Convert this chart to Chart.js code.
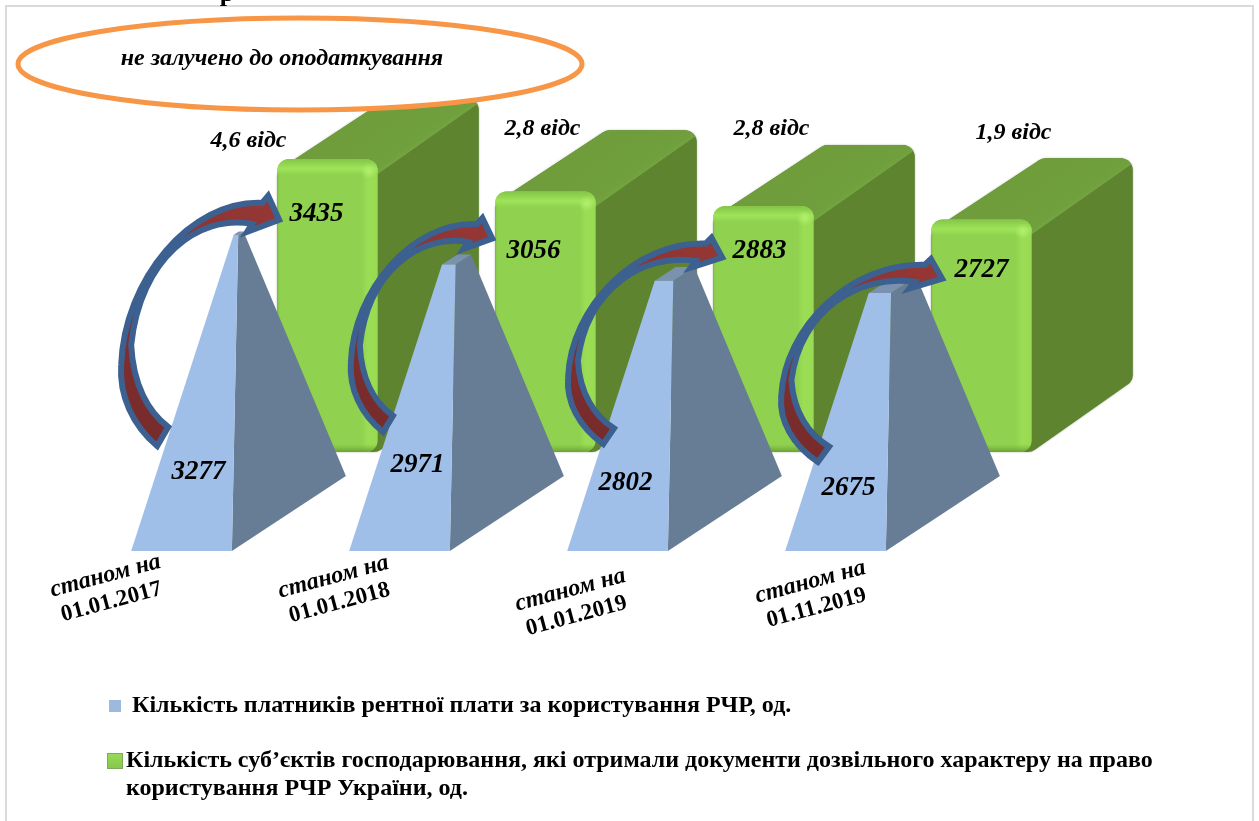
<!DOCTYPE html>
<html lang="uk">
<head>
<meta charset="utf-8">
<title>Chart</title>
<script src="https://cdn.jsdelivr.net/npm/chart.js@4"></script>
<style>
html,body{margin:0;padding:0;background:#fff;}
canvas{display:block;}
</style>
</head>
<body>
<canvas id="c" width="1259" height="821"></canvas>
<script>
const categories = [["станом на","01.01.2017"],["станом на","01.01.2018"],["станом на","01.01.2019"],["станом на","01.11.2019"]];
const payers = [3277, 2971, 2802, 2675];
const permitHolders = [3435, 3056, 2883, 2727];
const growthLabels = ["4,6 відс", "2,8 відс", "2,8 відс", "1,9 відс"];
const payersName = "\u00A0Кількість платників рентної плати за користування РЧР, од.";
const permitName = ["Кількість суб’єктів господарювання, які отримали документи дозвільного характеру на право", "користування РЧР України, од."];
const calloutText = "не залучено до оподаткування";

// Styling and small per-label nudges (relative to the library's own element positions)
const SERIF = '"Liberation Serif", "Times New Roman", serif';
const tickNudge = [[-146, 38],[-136, 39],[-117, 52],[-95, 44]];
const permitLabelNudge = [[-11, 55],[-12, 60],[-4, 45],[0, 51]];
const payerLabelNudge = [[17, -79],[18, -86],[8, -68],[13, -63]];
const growthNudge = [[-79, -18],[-3, -62],[8, -77],[32, -87]];
const arrowBox = [[-13, 3, 36, -105],[-1, -2, 26, -119],[-2, 10, 31, -107],[-7, 12, 39, -89]];

function marker(kind){
  const m = document.createElement('canvas'); m.width = 30; m.height = 20;
  const g = m.getContext('2d');
  if(kind === 0){ g.fillStyle = '#9DB9DE'; g.fillRect(14, 4, 12, 12); }
  else {
    const lg = g.createLinearGradient(0, 2, 0, 18);
    lg.addColorStop(0, '#9ADB58'); lg.addColorStop(1, '#86C64A');
    g.fillStyle = lg; g.fillRect(12, 2, 16, 16);
    g.strokeStyle = '#7FA85A'; g.lineWidth = 1; g.strokeRect(12.5, 2.5, 15, 15);
  }
  return m;
}
const markers = [marker(0), marker(1)];

function roundedPoly(ctx, pts, r){
  const n = pts.length;
  const a = pts[n-1], b = pts[0];
  ctx.beginPath();
  ctx.moveTo((a[0]+b[0])/2, (a[1]+b[1])/2);
  for(let i = 0; i < n; i++){
    const p = pts[i], q = pts[(i+1)%n];
    ctx.arcTo(p[0], p[1], q[0], q[1], r);
  }
  ctx.closePath();
}
function poly(ctx, pts){
  ctx.beginPath();
  pts.forEach((p,i)=> i ? ctx.lineTo(p[0],p[1]) : ctx.moveTo(p[0],p[1]));
  ctx.closePath();
}
function lerp(a, b, t){ return [a[0]+(b[0]-a[0])*t, a[1]+(b[1]-a[1])*t]; }

function drawBox(ctx, el){
  const L = el.x - el.width/2, R = el.x + el.width/2, T = el.y, B = el.base, r = 12;
  const backTop = T - 61, dxBack = 101;
  const sil = [[L,T+12],[L+111,backTop],[R+dxBack,backTop],[R+dxBack,B-71],[R,B],[L,B]];
  ctx.save();
  roundedPoly(ctx, sil, r);
  ctx.fillStyle = '#5E8430';
  ctx.shadowColor = 'rgba(60,90,30,.45)'; ctx.shadowBlur = 2;
  ctx.fill();
  ctx.shadowBlur = 0;
  ctx.clip();
  // top face
  const tg = ctx.createLinearGradient(R+30, T-50, R+62, T-4);
  tg.addColorStop(0, '#6F9D3C'); tg.addColorStop(.55, '#709F3D');
  tg.addColorStop(.8, '#79AF45'); tg.addColorStop(1, '#76AA42');
  poly(ctx, [[L,T+12],[L+111,backTop],[R+dxBack,backTop],[R+dxBack,T-56],[R,T+15]]);
  ctx.fillStyle = tg; ctx.fill();
  ctx.restore();
  // front face
  ctx.save();
  ctx.beginPath(); ctx.roundRect(L, T, el.width, B-T, r); ctx.clip();
  const fg = ctx.createLinearGradient(L, 0, R, 0);
  fg.addColorStop(0, '#86C448'); fg.addColorStop(.03, '#90D24F');
  fg.addColorStop(.84, '#90D24F'); fg.addColorStop(.9, '#9BDD55'); fg.addColorStop(1, '#98DB53');
  ctx.fillStyle = fg; ctx.fillRect(L, T, el.width, B-T);
  const vg = ctx.createLinearGradient(0, T, 0, T+16);
  vg.addColorStop(0, 'rgba(132,196,72,1)'); vg.addColorStop(.6, 'rgba(158,228,88,1)');
  vg.addColorStop(1, 'rgba(158,228,88,0)');
  ctx.fillStyle = vg; ctx.fillRect(L, T, el.width, 16);
  const sp = ctx.createRadialGradient(R-9, T+12, 0, R-9, T+12, 8);
  sp.addColorStop(0, 'rgba(178,240,110,1)'); sp.addColorStop(1, 'rgba(178,240,110,0)');
  ctx.fillStyle = sp; ctx.fillRect(R-18, T+3, 18, 18);
  const bg = ctx.createLinearGradient(0, B-8, 0, B);
  bg.addColorStop(0, 'rgba(120,180,60,0)'); bg.addColorStop(1, 'rgba(108,160,55,1)');
  ctx.fillStyle = bg; ctx.fillRect(L, B-8, el.width, 8);
  ctx.restore();
}

function drawPyramid(ctx, el, vmax, yScale){
  const dx = 114, dy = 75;
  const L = [el.x - el.width/2, el.base], R = [el.x + el.width/2, el.base];
  const Bk = [R[0]+dx, el.base-dy], BL = [L[0]+dx, el.base-dy];
  const A = [(L[0]+Bk[0])/2, yScale.getPixelForValue(vmax)];
  const t = (el.base - el.y) / (el.base - A[1]);
  const L2 = lerp(L,A,t), R2 = lerp(R,A,t), Bk2 = lerp(Bk,A,t), BL2 = lerp(BL,A,t);
  poly(ctx, [R,Bk,Bk2,R2]); ctx.fillStyle = '#677D95'; ctx.fill();
  poly(ctx, [L2,R2,Bk2,BL2]); ctx.fillStyle = '#7A92B0'; ctx.fill();
  poly(ctx, [L,R,R2,L2]); ctx.fillStyle = '#A0BFE8'; ctx.fill();
}

// Curved block arrow outline, in a template box that is then fitted to each arrow's anchors
const TPL = {x0:118, x1:280, y0:195, y1:446};
function drawArrow(ctx, x0, x1, y0, y1){
  const X = v => x0 + (v-TPL.x0)/(TPL.x1-TPL.x0)*(x1-x0);
  const Y = v => y0 + (v-TPL.y0)/(TPL.y1-TPL.y0)*(y1-y0);
  ctx.beginPath();
  ctx.moveTo(X(157),Y(446));
  ctx.bezierCurveTo(X(132),Y(425),X(119),Y(395),X(121),Y(365));
  ctx.bezierCurveTo(X(124),Y(280),X(190),Y(200),X(262),Y(203));
  ctx.lineTo(X(268),Y(196));
  ctx.lineTo(X(279),Y(220));
  ctx.lineTo(X(247),Y(232));
  ctx.lineTo(X(252),Y(224));
  ctx.bezierCurveTo(X(198),Y(214),X(140),Y(258),X(131),Y(345));
  ctx.bezierCurveTo(X(133),Y(385),X(148),Y(412),X(168),Y(427));
  ctx.closePath();
  const g = ctx.createLinearGradient(X(150),Y(440),X(270),Y(205));
  g.addColorStop(0,'#772B2B'); g.addColorStop(1,'#953735');
  ctx.fillStyle = g;
  ctx.fill();
  ctx.strokeStyle = '#3C6090'; ctx.lineWidth = 6; ctx.lineJoin = 'miter'; ctx.miterLimit = 6;
  ctx.stroke();
}

function text(ctx, s, x, y, font, rot){
  ctx.save();
  ctx.translate(x, y);
  if(rot) ctx.rotate(rot);
  ctx.font = font; ctx.fillStyle = '#000'; ctx.textAlign = 'center'; ctx.textBaseline = 'middle';
  ctx.fillText(s, 0, 0);
  ctx.restore();
}

const scene = {
  id: 'scene',
  afterLayout(chart){
    // the legend clips to its own box; leave room for its wrapped second line
    chart.legend.bottom = chart.height;
  },
  beforeDraw(chart){
    const ctx = chart.ctx;
    ctx.save();
    ctx.fillStyle = '#fff'; ctx.fillRect(0,0,chart.width,chart.height);
    ctx.strokeStyle = '#DADADA'; ctx.lineWidth = 2;
    ctx.beginPath();
    ctx.moveTo(6, chart.height); ctx.lineTo(6, 6); ctx.lineTo(1253, 6); ctx.lineTo(1253, chart.height);
    ctx.stroke();
    // clipped fragment of the heading above the frame
    ctx.font = 'bold 26px ' + SERIF; ctx.fillStyle = '#000'; ctx.textAlign = 'center'; ctx.textBaseline = 'alphabetic';
    ctx.fillText('р', 227, 1);
    ctx.restore();
  },
  afterDatasetsDraw(chart){
    const ctx = chart.ctx;
    const pyr = chart.getDatasetMeta(0).data, box = chart.getDatasetMeta(1).data;
    const vmax = Math.max(...payers, ...permitHolders);
    ctx.save();
    box.forEach(el => drawBox(ctx, el));
    pyr.forEach(el => drawPyramid(ctx, el, vmax, chart.scales.y));
    box.forEach((el,i) => {
      const p = pyr[i], b = arrowBox[i];
      drawArrow(ctx, p.x - p.width/2 + b[0], el.x - el.width/2 + b[1], el.y + b[2], p.base + b[3]);
    });
    // callout ellipse
    ctx.beginPath(); ctx.ellipse(300, 64, 282, 46, 0, 0, Math.PI*2);
    ctx.fillStyle = '#fff'; ctx.fill();
    ctx.strokeStyle = '#F79646'; ctx.lineWidth = 5; ctx.stroke();
    text(ctx, calloutText, 282, 59, 'italic bold 24px ' + SERIF);
    // value labels
    const numFont = 'italic bold 27px ' + SERIF;
    box.forEach((el,i) => text(ctx, String(permitHolders[i]), el.x + permitLabelNudge[i][0], el.y + permitLabelNudge[i][1], numFont));
    pyr.forEach((el,i) => text(ctx, String(payers[i]), el.x + payerLabelNudge[i][0], el.base + payerLabelNudge[i][1], numFont));
    box.forEach((el,i) => text(ctx, growthLabels[i], el.x + growthNudge[i][0], el.y + growthNudge[i][1], 'italic bold 24px ' + SERIF));
    // category labels, rotated
    const xs = chart.scales.x, rot = -15 * Math.PI / 180;
    xs.getLabels().forEach((lab,i) => {
      const cx = xs.getPixelForValue(i) + tickNudge[i][0], cy = xs.top + tickNudge[i][1];
      text(ctx, lab[0], cx - 3, cy - 13, 'italic bold 24px ' + SERIF, rot);
      text(ctx, lab[1], cx + 3, cy + 13, 'bold 23px ' + SERIF, rot);
    });
    ctx.restore();
  }
};

const hiddenAxis = {
  display: true,
  grid: {display:false, drawTicks:false},
  border: {display:false},
  ticks: {display:false}
};

new Chart(document.getElementById('c'), {
  type: 'bar',
  data: {
    labels: categories,
    datasets: [
      {label: payersName, data: payers, yAxisID: 'y', backgroundColor: 'rgba(0,0,0,0)', categoryPercentage: 1.339, barPercentage: .69},
      {label: permitName.join(' '), data: permitHolders, yAxisID: 'y2', backgroundColor: 'rgba(0,0,0,0)', categoryPercentage: 1.339, barPercentage: .69}
    ]
  },
  plugins: [scene],
  options: {
    responsive: false,
    animation: false,
    layout: {autoPadding: false, padding: {top: 100, left: 75, right: 0, bottom: 38}},
    scales: {
      x: {...hiddenAxis, offset: true, afterFit: s => { s.height = 112; }},
      y: {...hiddenAxis, position: 'left', min: 0, max: 4678, afterFit: s => { s.width = 70.5; }},
      y2: {...hiddenAxis, position: 'right', min: -1160, max: 4125, afterFit: s => { s.width = 241.5; }}
    },
    plugins: {
      tooltip: {enabled: false},
      title: {display: false},
      legend: {
        display: true,
        position: 'bottom',
        align: 'start',
        labels: {
          usePointStyle: true,
          boxWidth: 8,
          boxHeight: 8,
          padding: 31,
          color: '#000',
          font: {family: SERIF, size: 24, weight: 'bold', lineHeight: 1.1667},
          generateLabels: () => [
            {text: payersName, pointStyle: markers[0], fillStyle: '#9DB9DE', strokeStyle: '#9DB9DE', lineWidth: 0, datasetIndex: 0, hidden: false, fontColor: '#000'},
            {text: permitName, pointStyle: markers[1], fillStyle: '#92D050', strokeStyle: '#92D050', lineWidth: 0, datasetIndex: 1, hidden: false, fontColor: '#000'}
          ]
        }
      }
    }
  }
});
</script>
</body>
</html>
